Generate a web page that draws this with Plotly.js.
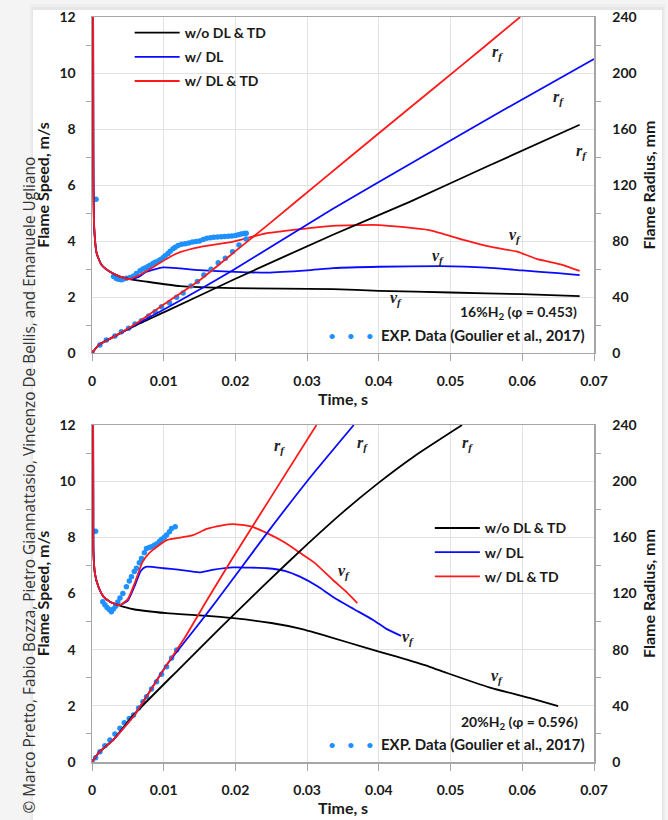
<!DOCTYPE html>
<html><head><meta charset="utf-8">
<script src="https://cdn.plot.ly/plotly-3.0.1.min.js"></script>
<style>html,body{margin:0;padding:0;background:#f4f4f4}#chart{width:668px;height:820px}</style>
</head><body><div id="chart"></div><script>
// ---------- DATA: 16% H2 (top panel) ----------
const seriesNames = ['w/o DL & TD', 'w/ DL', 'w/ DL & TD'];
const xTicks = [0, 0.01, 0.02, 0.03, 0.04, 0.05, 0.06, 0.07];

// Flame speed v_f (m/s)
const top_t_vf_noDL = [0.00015,0.00018,0.0002,0.0003,0.00065,0.00135,0.0025,0.0039,0.0053,0.0076,0.0123,0.0197,0.0336,0.04,0.05,0.06,0.068];
const top_vf_noDL   = [12.5,8.0,6.2,4.5,3.56,3.14,2.9,2.73,2.64,2.55,2.39,2.32,2.28,2.22,2.16,2.1,2.03];
const top_t_vf_DL   = [0.00015,0.00018,0.0002,0.0003,0.00065,0.00135,0.0025,0.0039,0.0053,0.0065,0.0076,0.0099,0.0123,0.015,0.02,0.0244,0.03,0.0336,0.04,0.0485,0.055,0.06,0.065,0.068];
const top_vf_DL     = [12.5,8.0,6.2,4.5,3.56,3.14,2.9,2.73,2.64,2.72,2.9,3.06,3.02,2.96,2.9,2.87,2.95,3.03,3.08,3.1,3.05,2.95,2.85,2.78];
const top_t_vf_DLTD = [0.00015,0.00018,0.0002,0.0003,0.00065,0.00135,0.0025,0.0039,0.0053,0.0062,0.0085,0.0109,0.0123,0.015,0.0197,0.0244,0.03,0.0336,0.04,0.047,0.0518,0.0555,0.0593,0.062,0.0657,0.068];
const top_vf_DLTD   = [12.5,8.0,6.2,4.5,3.56,3.14,2.9,2.73,2.64,2.73,3.06,3.44,3.6,3.78,3.98,4.28,4.45,4.54,4.57,4.39,4.04,3.8,3.62,3.36,3.14,2.93];
// Flame radius r_f (mm)
const top_t_rf_noDL = [0,0.001,0.003,0.006,0.01,0.02,0.0336,0.0443,0.055,0.068];
const top_rf_noDL   = [0,6,11.5,19.5,29,53,84.5,108,133,163];
const top_t_rf_DL   = [0,0.001,0.003,0.006,0.0099,0.0197,0.0336,0.045,0.057,0.07];
const top_rf_DL     = [0,6,11.5,20,30.7,59.3,103,137,172.5,210];
const top_t_rf_DLTD = [0,0.001,0.003,0.006,0.0099,0.015,0.0197,0.0244,0.0322,0.04,0.048,0.055,0.0597];
const top_rf_DLTD   = [0,6,11.5,20.5,34.3,52,71.5,91,124,157,190.5,220,240];
// Experimental data (Goulier et al., 2017)
const top_exp_t_vf = [0.00056,0.003,0.0034,0.0037,0.0041,0.0044,0.0048,0.0053,0.0058,0.0062,0.0067,0.0071,0.0074,0.0078,0.0081,0.0085,0.0088,0.0092,0.0095,0.0099,0.0102,0.0106,0.0109,0.0113,0.0116,0.012,0.0125,0.013,0.0135,0.014,0.0145,0.015,0.0155,0.016,0.0165,0.017,0.0175,0.018,0.0185,0.019,0.0195,0.02,0.0204,0.0208,0.0212,0.0215];
const top_exp_vf   = [5.49,2.73,2.66,2.63,2.62,2.64,2.67,2.7,2.75,2.84,2.94,3.0,3.04,3.09,3.13,3.2,3.24,3.28,3.33,3.4,3.47,3.55,3.63,3.72,3.78,3.84,3.88,3.9,3.93,3.96,3.98,4.0,4.05,4.1,4.12,4.13,4.14,4.15,4.16,4.17,4.18,4.2,4.22,4.25,4.27,4.28];
const top_exp_t_rf = [0,0.0011,0.002,0.0032,0.0041,0.0051,0.006,0.0069,0.0079,0.0088,0.0097,0.0108,0.0118,0.0127,0.0138,0.0147,0.0156,0.0166,0.0176,0.0186,0.0196,0.0205,0.0215];
const top_exp_rf   = [0,5.7,9.3,12.1,15.2,17.6,20.7,23,26.4,29.5,33,35.9,39.8,42.8,47.9,51,55.7,59.8,64.5,67.6,72.4,77.1,81.4];

// ---------- DATA: 20% H2 (bottom panel) ----------
const bot_t_vf_noDL = [0.00015,0.00018,0.0002,0.0004,0.0009,0.0016,0.0025,0.0037,0.0058,0.0104,0.015,0.0197,0.025,0.029,0.0332,0.038,0.0425,0.047,0.0495,0.0555,0.061,0.065];
const bot_vf_noDL   = [12.5,9,7.5,6.72,6.24,5.89,5.71,5.59,5.44,5.3,5.22,5.12,4.95,4.75,4.45,4.08,3.75,3.4,3.17,2.65,2.28,1.99];
const bot_t_vf_DL   = [0.00015,0.00018,0.0002,0.0004,0.0009,0.0016,0.0025,0.0037,0.004,0.005,0.006,0.0068,0.0075,0.01,0.012,0.015,0.017,0.0197,0.0244,0.027,0.029,0.0315,0.0336,0.0365,0.0392,0.041,0.0431];
const bot_vf_DL     = [12.5,9,7.5,6.72,6.24,5.89,5.71,5.59,5.6,5.75,6.3,6.8,6.95,6.9,6.85,6.75,6.85,6.93,6.9,6.8,6.6,6.25,5.88,5.45,5.06,4.75,4.49];
const bot_t_vf_DLTD = [0.00015,0.00018,0.0002,0.0004,0.0009,0.0016,0.0025,0.0037,0.004,0.005,0.006,0.007,0.008,0.0104,0.0125,0.0141,0.016,0.018,0.0197,0.022,0.0244,0.027,0.029,0.031,0.0336,0.0355,0.037];
const bot_vf_DLTD   = [12.5,9,7.5,6.72,6.24,5.89,5.71,5.59,5.6,5.8,6.4,7.1,7.45,7.9,8.0,8.08,8.3,8.42,8.47,8.4,8.15,7.8,7.45,7.1,6.48,6.05,5.66];
const bot_t_rf_noDL = [0,0.001,0.003,0.0058,0.012,0.018,0.024,0.03,0.035,0.04,0.045,0.0516];
const bot_rf_noDL   = [0,7,16,33.5,65.5,96,126,155,178,199,218,240];
const bot_t_rf_DL   = [0,0.001,0.003,0.006,0.0104,0.015,0.0174,0.0244,0.03,0.0365];
const bot_rf_DL     = [0,7,16,34,69,99,115,163,200,240];
const bot_t_rf_DLTD = [0,0.001,0.003,0.006,0.0104,0.013,0.016,0.0197,0.025,0.0313];
const bot_rf_DLTD   = [0,7,16,34,69,89,115,146,189,240];
const bot_exp_t_vf = [0.0005,0.0015,0.0018,0.0021,0.0024,0.0027,0.003,0.0033,0.0036,0.0039,0.0043,0.0048,0.0052,0.0055,0.0059,0.0062,0.0066,0.0069,0.0073,0.0076,0.008,0.0083,0.0087,0.009,0.0094,0.0097,0.0101,0.0104,0.0108,0.0111,0.0116];
const bot_exp_vf   = [8.22,5.71,5.6,5.5,5.43,5.35,5.45,5.55,5.7,5.84,6.0,6.24,6.45,6.6,6.78,6.9,7.1,7.25,7.45,7.6,7.64,7.67,7.72,7.76,7.85,7.93,8.0,8.08,8.2,8.32,8.38];
const bot_exp_t_rf = [0,0.0005,0.0011,0.0018,0.0025,0.0032,0.0039,0.0045,0.0052,0.0058,0.0065,0.0071,0.0076,0.0083,0.009,0.0097,0.0104,0.0111,0.0118];
const bot_exp_rf   = [0,3,7.3,11.5,15.7,20,24,28,31,33.5,38.5,43,46.5,52,57.2,62.5,67.9,74,79.8];

// ---------- STYLE ----------
const colors = ['#000000', '#0a0aff', '#ff1a1a'];
const expColor = '#1e90ff';
const FONT = 'Lato, "Open Sans", sans-serif';
const LW = 1.8;

function line(x, y, i, xa, ya, legend, show) {
  return {x, y, xaxis: xa, yaxis: ya, type: 'scatter', mode: 'lines',
    line: {color: colors[i], width: LW, shape: 'spline', smoothing: 0.5},
    name: seriesNames[i], legendgroup: legend + i, legend: legend,
    showlegend: show, hoverinfo: 'skip'};
}
function dots(x, y, xa, ya) {
  return {x, y, xaxis: xa, yaxis: ya, type: 'scatter', mode: 'markers',
    marker: {color: expColor, size: 5.5}, showlegend: false, hoverinfo: 'skip'};
}

const traces = [
  dots(top_exp_t_vf, top_exp_vf, 'x', 'y'),
  dots(top_exp_t_rf, top_exp_rf, 'x', 'y2'),
  line(top_t_vf_noDL, top_vf_noDL, 0, 'x', 'y', 'legend', true),
  line(top_t_vf_DL, top_vf_DL, 1, 'x', 'y', 'legend', true),
  line(top_t_vf_DLTD, top_vf_DLTD, 2, 'x', 'y', 'legend', true),
  line(top_t_rf_noDL, top_rf_noDL, 0, 'x', 'y2', 'legend', false),
  line(top_t_rf_DL, top_rf_DL, 1, 'x', 'y2', 'legend', false),
  line(top_t_rf_DLTD, top_rf_DLTD, 2, 'x', 'y2', 'legend', false),
  dots(bot_exp_t_vf, bot_exp_vf, 'x2', 'y3'),
  dots(bot_exp_t_rf, bot_exp_rf, 'x2', 'y4'),
  line(bot_t_vf_noDL, bot_vf_noDL, 0, 'x2', 'y3', 'legend2', true),
  line(bot_t_vf_DL, bot_vf_DL, 1, 'x2', 'y3', 'legend2', true),
  line(bot_t_vf_DLTD, bot_vf_DLTD, 2, 'x2', 'y3', 'legend2', true),
  line(bot_t_rf_noDL, bot_rf_noDL, 0, 'x2', 'y4', 'legend2', false),
  line(bot_t_rf_DL, bot_rf_DL, 1, 'x2', 'y4', 'legend2', false),
  line(bot_t_rf_DLTD, bot_rf_DLTD, 2, 'x2', 'y4', 'legend2', false)
];

const AX = '#a6a6a6', GRID = '#e2e2e2', TXT = '#1a1a1a';
const tickFont = {family: FONT, size: 14, color: TXT, weight: 'bold'};
const titleFont = {family: FONT, size: 16, color: TXT, weight: 'bold'};

function xAxis(anchor) {
  return {anchor, domain: [0, 1], range: [0, 0.07], tickvals: xTicks,
    ticks: 'outside', ticklen: 7, tickcolor: AX, showline: true, linecolor: AX, linewidth: 1.5,
    mirror: true, showgrid: true, gridcolor: GRID, zeroline: false,
    tickfont: tickFont, ticklabelstandoff: 8,
    title: {text: '<b>Time, s</b>', font: titleFont, standoff: 4}};
}
function yLeft(domain, anchor) {
  return {domain, anchor, range: [0, 12], dtick: 2, ticks: '', showline: true, linecolor: AX, linewidth: 1.5,
    showgrid: true, gridcolor: GRID, zeroline: false, tickfont: tickFont, ticklabelstandoff: 12,
    minor: {dtick: 1, ticks: 'outside', ticklen: 5, tickcolor: AX, showgrid: false},
    title: {text: '<b>Flame Speed, m/s</b>', font: titleFont, standoff: 6}};
}
function yRight(overlay, anchor) {
  return {overlaying: overlay, anchor, side: 'right', range: [0, 240], dtick: 40, ticks: '',
    showline: true, linecolor: AX, linewidth: 1.5, showgrid: false, zeroline: false,
    tickfont: tickFont, ticklabelstandoff: 14,
    minor: {dtick: 20, ticks: 'outside', ticklen: 5, tickcolor: AX, showgrid: false},
    title: {text: '<b>Flame Radius, mm</b>', font: titleFont, standoff: 8}};
}

const lblFont = {family: '"Liberation Serif", "DejaVu Serif", serif', size: 16, color: '#222'};
function lbl(text, x, y, xr, yr) {
  return {text: '<b><i>' + text + '</i></b>', x, y, xref: xr, yref: yr, showarrow: false, font: lblFont};
}
const rf = 'r<sub>f</sub>', vf = 'v<sub>f</sub>';
const txtFont = {family: FONT, size: 14, color: TXT, weight: 'bold'};
const expFont = {family: FONT, size: 15, color: TXT, weight: 'bold'};
const dotFont = {family: FONT, size: 14, color: expColor};
const annotations = [
  lbl(rf, 0.0566, 10.75, 'x', 'y'), lbl(rf, 0.065, 9.14, 'x', 'y'), lbl(rf, 0.0683, 7.18, 'x', 'y'),
  lbl(vf, 0.059, 4.21, 'x', 'y'), lbl(vf, 0.0483, 3.46, 'x', 'y'), lbl(vf, 0.0424, 1.93, 'x', 'y'),
  lbl(rf, 0.0262, 11.22, 'x2', 'y3'), lbl(rf, 0.0377, 11.36, 'x2', 'y3'), lbl(rf, 0.0524, 11.36, 'x2', 'y3'),
  lbl(vf, 0.0351, 6.8, 'x2', 'y3'), lbl(vf, 0.0441, 4.42, 'x2', 'y3'), lbl(vf, 0.0565, 3.03, 'x2', 'y3'),
  {text: '<b>16%H<sub>2</sub> (φ = 0.453)</b>', x: 0.0679, y: 1.43, xref: 'x', yref: 'y', xanchor: 'right', showarrow: false, font: txtFont},
  {text: '<b>EXP. Data (Goulier et al., 2017)</b>', x: 0.069, y: 0.64, xref: 'x', yref: 'y', xanchor: 'right', showarrow: false, font: expFont},
  {text: '•   •   •', x: 0.0396, y: 0.64, xref: 'x', yref: 'y', xanchor: 'right', showarrow: false, font: dotFont},
  {text: '<b>20%H<sub>2</sub> (φ = 0.596)</b>', x: 0.0681, y: 1.42, xref: 'x2', yref: 'y3', xanchor: 'right', showarrow: false, font: txtFont},
  {text: '<b>EXP. Data (Goulier et al., 2017)</b>', x: 0.069, y: 0.64, xref: 'x2', yref: 'y3', xanchor: 'right', showarrow: false, font: expFont},
  {text: '•   •   •', x: 0.0396, y: 0.64, xref: 'x2', yref: 'y3', xanchor: 'right', showarrow: false, font: dotFont},
  {text: '© Marco Pretto, Fabio Bozza, Pietro Giannattasio, Vincenzo De Bellis, and Emanuele Ugliano',
   x: -0.149, y: 0.372, xref: 'paper', yref: 'paper', textangle: -90, showarrow: false,
   font: {family: '"Open Sans", sans-serif', size: 15.4, color: '#333'}}
];

const legendFont = {family: FONT, size: 14, color: TXT, weight: 'bold'};
const layout = {
  width: 668, height: 820,
  margin: {l: 92, r: 74, t: 17, b: 58},
  paper_bgcolor: '#f4f4f4', plot_bgcolor: 'rgba(0,0,0,0)',
  font: {family: FONT},
  showlegend: true,
  xaxis: xAxis('y'),
  yaxis: yLeft([0.549, 1], 'x'),
  yaxis2: yRight('y', 'x'),
  xaxis2: xAxis('y3'),
  yaxis3: yLeft([0, 0.4523], 'x2'),
  yaxis4: yRight('y3', 'x2'),
  legend: {x: 0.075, y: 1.0, xanchor: 'left', yanchor: 'top', bgcolor: 'rgba(0,0,0,0)', font: legendFont, itemwidth: 45, tracegroupgap: 3},
  legend2: {x: 0.673, y: 0.335, xanchor: 'left', yanchor: 'top', bgcolor: 'rgba(0,0,0,0)', font: legendFont, itemwidth: 45, tracegroupgap: 3},
  shapes: [
    {type: 'rect', xref: 'paper', yref: 'paper', x0: -0.1235, x1: 1.1415, y0: -0.1, y1: 1.0175, layer: 'below', line: {width: 0}, fillcolor: 'rgba(0,0,0,0.025)'},
    {type: 'rect', xref: 'paper', yref: 'paper', x0: -0.1205, x1: 1.1385, y0: -0.1, y1: 1.0135, layer: 'below', line: {width: 0}, fillcolor: 'rgba(0,0,0,0.03)'},
    {type: 'rect', xref: 'paper', yref: 'paper', x0: -0.1175, x1: 1.1355, y0: -0.1, y1: 1.0094, layer: 'below', line: {width: 0}, fillcolor: '#ffffff'}
  ],
  annotations
};

Plotly.newPlot('chart', traces, layout, {displayModeBar: false, staticPlot: true});
</script></body></html>
